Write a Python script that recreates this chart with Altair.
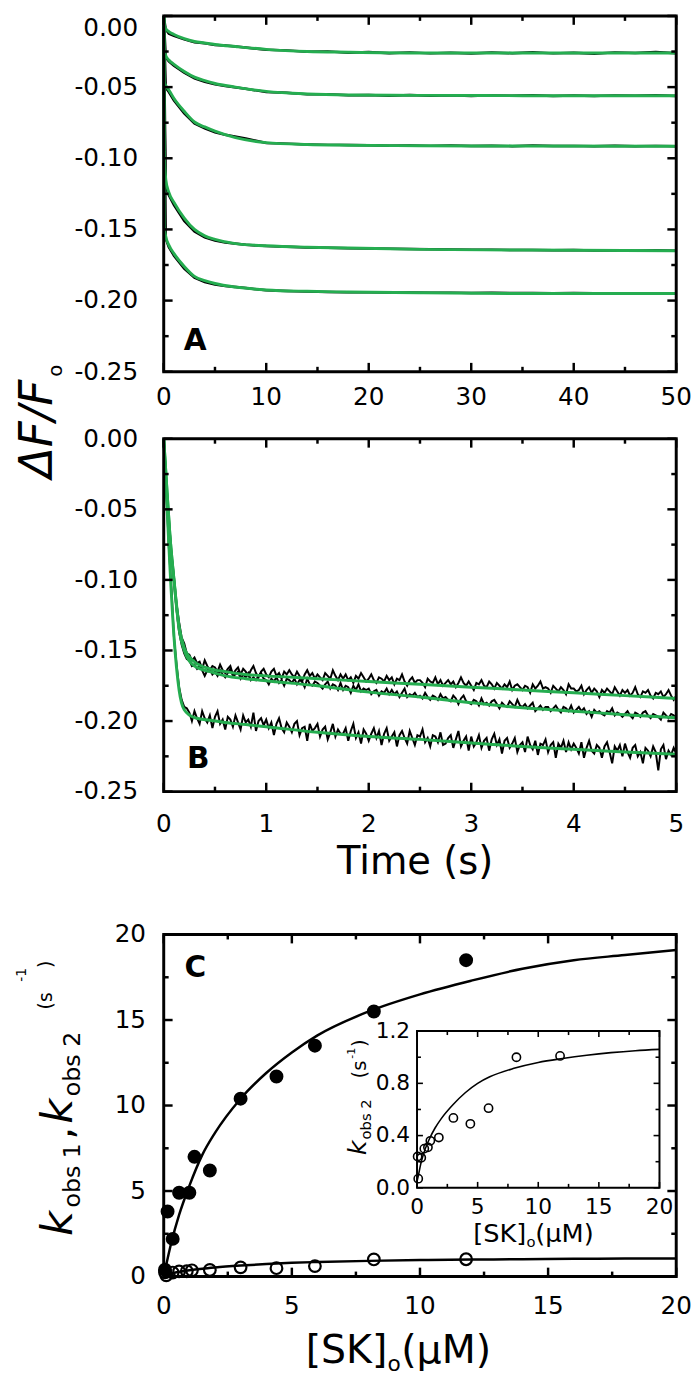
import altair as alt
import pandas as pd

FONT = "DejaVu Sans"
GREEN = "#25ad50"

# ---------------- Panel A (0-50 s) ----------------
A_TIME = [0, 0.2, 0.5, 1, 2, 3, 4, 5, 6, 8, 10, 12, 14, 16, 18, 20, 22, 24, 26, 28,
          30, 32, 34, 36, 38, 40, 42, 44, 46, 48, 50]
A_DATA_1 = [0, -0.0095, -0.0125, -0.0140, -0.0165, -0.0185, -0.0192, -0.0205, -0.0208, -0.0222,
            -0.0238, -0.0242, -0.0252, -0.0249, -0.0258, -0.0254, -0.0262, -0.0256, -0.0263, -0.0258,
            -0.0264, -0.0257, -0.0262, -0.0255, -0.0263, -0.0258, -0.0265, -0.0256, -0.0261, -0.0254, -0.0262]
A_DATA_2 = [0, -0.0290, -0.0320, -0.0350, -0.0398, -0.0438, -0.0462, -0.0480, -0.0492, -0.0512,
            -0.0534, -0.0540, -0.0551, -0.0550, -0.0557, -0.0555, -0.0560, -0.0556, -0.0561, -0.0557,
            -0.0562, -0.0558, -0.0561, -0.0557, -0.0562, -0.0559, -0.0563, -0.0558, -0.0561, -0.0557, -0.0562]
A_DATA_3 = [0, -0.0505, -0.0535, -0.0595, -0.0685, -0.0755, -0.0790, -0.0818, -0.0835, -0.0860,
            -0.0893, -0.0897, -0.0903, -0.0906, -0.0907, -0.0909, -0.0912, -0.0910, -0.0913, -0.0911,
            -0.0914, -0.0912, -0.0915, -0.0911, -0.0914, -0.0913, -0.0916, -0.0912, -0.0915, -0.0913, -0.0916]
A_DATA_4 = [0, -0.1190, -0.1260, -0.1330, -0.1440, -0.1515, -0.1555, -0.1578, -0.1592, -0.1608,
            -0.1617, -0.1622, -0.1627, -0.1629, -0.1632, -0.1634, -0.1636, -0.1637, -0.1640, -0.1641,
            -0.1643, -0.1642, -0.1645, -0.1644, -0.1646, -0.1645, -0.1648, -0.1646, -0.1649, -0.1647, -0.1650]
A_DATA_5 = [0, -0.1565, -0.1625, -0.1685, -0.1775, -0.1840, -0.1870, -0.1888, -0.1898, -0.1912,
            -0.1928, -0.1932, -0.1937, -0.1939, -0.1941, -0.1942, -0.1944, -0.1943, -0.1945, -0.1944,
            -0.1946, -0.1945, -0.1947, -0.1946, -0.1948, -0.1947, -0.1949, -0.1948, -0.1950, -0.1949, -0.1951]

A_FIT_TIME = [0, 0.05, 0.2, 0.5, 1, 2, 3, 4, 5, 7, 10, 14, 18, 25, 35, 50]
A_FIT_1 = [0, -0.006, -0.009, -0.011, -0.013, -0.016, -0.018, -0.019, -0.020, -0.0215, -0.0235, -0.025, -0.0255, -0.026, -0.026, -0.026]
A_FIT_2 = [0, -0.024, -0.028, -0.031, -0.034, -0.039, -0.043, -0.0455, -0.0475, -0.050, -0.053, -0.0548, -0.0555, -0.0558, -0.056, -0.056]
A_FIT_3 = [0, -0.046, -0.049, -0.052, -0.058, -0.067, -0.0745, -0.078, -0.081, -0.0855, -0.089, -0.0903, -0.0908, -0.0912, -0.0914, -0.0915]
A_FIT_4 = [0, -0.095, -0.115, -0.124, -0.131, -0.142, -0.150, -0.1545, -0.157, -0.160, -0.1615, -0.1625, -0.163, -0.164, -0.1645, -0.165]
A_FIT_5 = [0, -0.148, -0.155, -0.161, -0.167, -0.176, -0.183, -0.186, -0.188, -0.1905, -0.1925, -0.1935, -0.194, -0.1945, -0.195, -0.195]

# ---------------- Panel B (0-5 s), sampled every 0.025 s ----------------
B_TIME = [round(0.025 * i, 3) for i in range(201)]
B_DATA_1 = [
    0.000, -0.031, -0.056, -0.081, -0.098, -0.117, -0.130, -0.141, -0.145, -0.152,
    -0.153, -0.157, -0.155, -0.159, -0.158, -0.163, -0.157, -0.161, -0.164, -0.161,
    -0.162, -0.165, -0.160, -0.164, -0.166, -0.163, -0.161, -0.167, -0.164, -0.162,
    -0.167, -0.163, -0.165, -0.168, -0.164, -0.161, -0.166, -0.169, -0.165, -0.163,
    -0.167, -0.169, -0.165, -0.163, -0.168, -0.166, -0.170, -0.165, -0.167, -0.164,
    -0.167, -0.169, -0.165, -0.168, -0.172, -0.167, -0.164, -0.168, -0.166, -0.170,
    -0.167, -0.169, -0.171, -0.166, -0.168, -0.170, -0.164, -0.168, -0.171, -0.167,
    -0.170, -0.167, -0.171, -0.169, -0.173, -0.168, -0.170, -0.166, -0.169, -0.172,
    -0.170, -0.167, -0.171, -0.173, -0.169, -0.170, -0.172, -0.168, -0.171, -0.169,
    -0.174, -0.170, -0.171, -0.167, -0.172, -0.175, -0.171, -0.169, -0.173, -0.171,
    -0.171, -0.173, -0.176, -0.170, -0.172, -0.173, -0.169, -0.174, -0.171, -0.175,
    -0.173, -0.171, -0.174, -0.172, -0.176, -0.173, -0.169, -0.173, -0.175, -0.172,
    -0.175, -0.178, -0.173, -0.174, -0.171, -0.175, -0.176, -0.172, -0.174, -0.177,
    -0.173, -0.175, -0.177, -0.174, -0.176, -0.172, -0.178, -0.175, -0.174, -0.176,
    -0.178, -0.175, -0.176, -0.180, -0.174, -0.177, -0.175, -0.172, -0.177, -0.176,
    -0.177, -0.180, -0.175, -0.177, -0.179, -0.176, -0.178, -0.181, -0.174, -0.177,
    -0.177, -0.179, -0.178, -0.175, -0.181, -0.178, -0.176, -0.180, -0.177, -0.179,
    -0.183, -0.178, -0.180, -0.177, -0.179, -0.181, -0.176, -0.179, -0.182, -0.178,
    -0.180, -0.178, -0.182, -0.180, -0.176, -0.181, -0.183, -0.179, -0.180, -0.178,
    -0.182, -0.184, -0.180, -0.181, -0.179, -0.183, -0.181, -0.178, -0.182, -0.185,
    -0.182]
B_DATA_2 = [
    0.000, -0.029, -0.060, -0.082, -0.101, -0.121, -0.137, -0.146, -0.152, -0.156,
    -0.157, -0.161, -0.160, -0.163, -0.161, -0.164, -0.168, -0.164, -0.163, -0.167,
    -0.165, -0.168, -0.164, -0.167, -0.169, -0.166, -0.163, -0.168, -0.167, -0.165,
    -0.170, -0.167, -0.169, -0.166, -0.171, -0.169, -0.171, -0.168, -0.166, -0.170,
    -0.171, -0.174, -0.170, -0.172, -0.169, -0.173, -0.171, -0.175, -0.170, -0.171,
    -0.173, -0.170, -0.174, -0.171, -0.172, -0.176, -0.170, -0.174, -0.175, -0.172,
    -0.173, -0.175, -0.177, -0.174, -0.172, -0.177, -0.174, -0.175, -0.178, -0.173,
    -0.178, -0.175, -0.176, -0.180, -0.175, -0.178, -0.174, -0.179, -0.177, -0.178,
    -0.177, -0.181, -0.179, -0.178, -0.182, -0.179, -0.180, -0.177, -0.181, -0.178,
    -0.181, -0.179, -0.183, -0.180, -0.177, -0.183, -0.181, -0.182, -0.180, -0.183,
    -0.182, -0.184, -0.180, -0.183, -0.185, -0.182, -0.183, -0.185, -0.181, -0.184,
    -0.183, -0.185, -0.186, -0.182, -0.184, -0.188, -0.184, -0.182, -0.186, -0.187,
    -0.188, -0.185, -0.186, -0.189, -0.184, -0.188, -0.187, -0.189, -0.186, -0.185,
    -0.188, -0.191, -0.187, -0.189, -0.190, -0.186, -0.188, -0.190, -0.185, -0.189,
    -0.190, -0.188, -0.191, -0.189, -0.187, -0.193, -0.191, -0.189, -0.192, -0.190,
    -0.190, -0.193, -0.191, -0.189, -0.192, -0.194, -0.190, -0.191, -0.193, -0.189,
    -0.194, -0.192, -0.190, -0.193, -0.191, -0.195, -0.193, -0.197, -0.192, -0.194,
    -0.193, -0.195, -0.196, -0.193, -0.194, -0.191, -0.196, -0.194, -0.195, -0.197,
    -0.195, -0.193, -0.196, -0.198, -0.194, -0.195, -0.197, -0.194, -0.193, -0.196,
    -0.198, -0.195, -0.196, -0.197, -0.199, -0.194, -0.196, -0.198, -0.195, -0.196,
    -0.198]
B_DATA_3 = [
    0.000, -0.036, -0.077, -0.106, -0.141, -0.160, -0.176, -0.185, -0.190, -0.191,
    -0.194, -0.200, -0.193, -0.198, -0.202, -0.193, -0.198, -0.201, -0.196, -0.205,
    -0.197, -0.193, -0.202, -0.199, -0.206, -0.197, -0.199, -0.204, -0.196, -0.201,
    -0.206, -0.196, -0.201, -0.199, -0.204, -0.194, -0.207, -0.200, -0.198, -0.203,
    -0.199, -0.205, -0.201, -0.210, -0.202, -0.198, -0.205, -0.208, -0.201, -0.204,
    -0.208, -0.202, -0.200, -0.210, -0.205, -0.204, -0.214, -0.202, -0.207, -0.205,
    -0.202, -0.211, -0.206, -0.204, -0.213, -0.208, -0.202, -0.211, -0.206, -0.209,
    -0.209, -0.205, -0.214, -0.207, -0.202, -0.212, -0.208, -0.216, -0.206, -0.209,
    -0.214, -0.209, -0.205, -0.212, -0.207, -0.217, -0.209, -0.205, -0.214, -0.211,
    -0.208, -0.218, -0.210, -0.207, -0.212, -0.216, -0.207, -0.212, -0.217, -0.210,
    -0.211, -0.206, -0.215, -0.212, -0.218, -0.210, -0.211, -0.215, -0.208, -0.217,
    -0.216, -0.212, -0.210, -0.219, -0.213, -0.207, -0.218, -0.214, -0.211, -0.221,
    -0.211, -0.218, -0.215, -0.210, -0.219, -0.214, -0.212, -0.221, -0.213, -0.209,
    -0.217, -0.213, -0.223, -0.214, -0.212, -0.219, -0.216, -0.212, -0.222, -0.217,
    -0.215, -0.222, -0.211, -0.217, -0.220, -0.214, -0.224, -0.216, -0.217, -0.213,
    -0.222, -0.217, -0.215, -0.226, -0.216, -0.219, -0.214, -0.222, -0.215, -0.220,
    -0.216, -0.219, -0.223, -0.215, -0.226, -0.219, -0.214, -0.221, -0.223, -0.217,
    -0.219, -0.226, -0.218, -0.215, -0.222, -0.230, -0.218, -0.221, -0.217, -0.225,
    -0.216, -0.222, -0.226, -0.219, -0.217, -0.225, -0.222, -0.230, -0.219, -0.221,
    -0.225, -0.218, -0.222, -0.235, -0.220, -0.217, -0.227, -0.221, -0.224, -0.219,
    -0.223]

B_FIT_TIME = [0, 0.03, 0.06, 0.1, 0.15, 0.2, 0.3, 0.45, 0.6, 0.8, 1.0, 1.5, 2.0, 2.5, 3.0, 3.5, 4.0, 4.5, 5.0]
B_FIT_1 = [0, -0.035, -0.068, -0.100, -0.133, -0.148, -0.158, -0.163, -0.165, -0.167, -0.168, -0.170, -0.172, -0.174, -0.176, -0.178, -0.180, -0.182, -0.184]
B_FIT_2 = [0, -0.035, -0.068, -0.100, -0.135, -0.150, -0.161, -0.165, -0.168, -0.170, -0.1715, -0.175, -0.1795, -0.183, -0.187, -0.1906, -0.193, -0.1955, -0.1976]
B_FIT_3 = [0, -0.045, -0.090, -0.140, -0.178, -0.192, -0.1976, -0.1995, -0.201, -0.2025, -0.204, -0.208, -0.211, -0.213, -0.2155, -0.218, -0.220, -0.222, -0.2235]

# ---------------- Panel C ----------------
C_SK_1 = [0.05, 0.15, 0.35, 0.6, 1.0, 1.2, 1.8, 3.0, 4.4, 5.9, 8.2, 11.8]
C_KOBS_1 = [0.4, 3.8, 2.2, 4.9, 4.9, 7.0, 6.2, 10.4, 11.7, 13.5, 15.5, 18.5]
C_SK_2 = [0.1, 0.05, 0.35, 0.6, 0.9, 1.1, 1.8, 3.0, 4.4, 5.9, 8.2, 11.8]
C_KOBS_2 = [0.07, 0.24, 0.23, 0.30, 0.31, 0.36, 0.385, 0.535, 0.49, 0.61, 1.0, 1.01]
C_FIT_SK_1 = [0, 0.3, 0.6, 1, 1.5, 2, 3, 4, 5, 6, 8, 10, 12, 14, 16, 18, 20]
C_FIT_1 = [0, 2.0, 3.6, 5.3, 7.1, 8.4, 10.4, 11.9, 13.1, 14.1, 15.5, 16.5, 17.3, 18.0, 18.5, 18.8, 19.1]
C_FIT_SK_2 = [0, 0.1, 0.3, 0.5, 1, 1.5, 2, 3, 4, 5, 6, 8, 10, 12, 14, 16, 18, 20]
C_FIT_2 = [0.05, 0.09, 0.18, 0.25, 0.37, 0.46, 0.53, 0.64, 0.73, 0.80, 0.85, 0.915, 0.96, 0.99, 1.015, 1.035, 1.05, 1.06]

# ---------------- ticks and tick labels ----------------
A_X_MAJOR = [0, 10, 20, 30, 40, 50]
A_X_MINOR = [5, 15, 25, 35, 45]
A_X_LABELS = ["0", "10", "20", "30", "40", "50"]
Y_MAJOR = [-0.25, -0.2, -0.15, -0.1, -0.05, 0]
Y_MINOR = [-0.225, -0.175, -0.125, -0.075, -0.025]
Y_LABELS = ["-0.25", "-0.20", "-0.15", "-0.10", "-0.05", "0.00"]
B_X_MAJOR = [0, 1, 2, 3, 4, 5]
B_X_MINOR = [0.5, 1.5, 2.5, 3.5, 4.5]
B_X_LABELS = ["0", "1", "2", "3", "4", "5"]
C_MAJOR = [0, 5, 10, 15, 20]
C_MINOR = [2.5, 7.5, 12.5, 17.5]
C_LABELS = ["0", "5", "10", "15", "20"]
I_Y_MAJOR = [0, 0.4, 0.8, 1.2]
I_Y_MINOR = [0.2, 0.6, 1.0]
I_Y_LABELS = ["0.0", "0.4", "0.8", "1.2"]

W = 520
HA, HB = 361, 358
CT, CB = 77, 424          # panel C plot top / bottom inside its (taller) view
LAB = 25                  # tick label font size
ONE = pd.DataFrame({"i": [0]})


def long_df(times, series):
    rows = []
    for k, vals in enumerate(series):
        for t, v in zip(times, vals):
            rows.append({"t": t, "v": v, "trace": k})
    return pd.DataFrame(rows)


def txt(s, x, y, size, angle=0, italic=False, bold=False, align="left", baseline="alphabetic"):
    return alt.Chart(ONE).mark_text(
        text=s, angle=angle, align=align, baseline=baseline, font=FONT, fontSize=size,
        fontStyle="italic" if italic else "normal", fontWeight="bold" if bold else "normal",
        color="black",
    ).encode(x=alt.value(x), y=alt.value(y))


def frame(x0, x1, y0, y1, sw=3, fill="transparent"):
    return alt.Chart(ONE).mark_rect(fill=fill, stroke="black", strokeWidth=sw).encode(
        x=alt.value(x0), x2=alt.value(x1), y=alt.value(y0), y2=alt.value(y1))


def ticks(xs, ys, xmaj, xmin, ymaj, ymin, x0, x1, y0, y1, L=9, l=5, sw=2.5):
    out = []
    for vals, ln in ((xmaj, L), (xmin, l)):
        base = alt.Chart(pd.DataFrame({"v": vals})).mark_rule(color="black", strokeWidth=sw)
        xe = alt.X("v:Q", scale=xs, axis=None)
        out.append(base.encode(x=xe, y=alt.value(y1), y2=alt.value(y1 - ln)))
        out.append(base.encode(x=xe, y=alt.value(y0), y2=alt.value(y0 + ln)))
    for vals, ln in ((ymaj, L), (ymin, l)):
        base = alt.Chart(pd.DataFrame({"v": vals})).mark_rule(color="black", strokeWidth=sw)
        ye = alt.Y("v:Q", scale=ys, axis=None)
        out.append(base.encode(y=ye, x=alt.value(x0), x2=alt.value(x0 + ln)))
        out.append(base.encode(y=ye, x=alt.value(x1), x2=alt.value(x1 - ln)))
    return out


def xlabels(xs, vals, labs, y, size=LAB):
    return alt.Chart(pd.DataFrame({"v": vals, "lab": labs})).mark_text(
        align="center", baseline="top", font=FONT, fontSize=size, color="black"
    ).encode(x=alt.X("v:Q", scale=xs, axis=None), y=alt.value(y), text="lab:N")


def ylabels(ys, vals, labs, x, size=LAB, baseline="middle"):
    return alt.Chart(pd.DataFrame({"v": vals, "lab": labs})).mark_text(
        align="right", baseline=baseline, font=FONT, fontSize=size, color="black"
    ).encode(y=alt.Y("v:Q", scale=ys, axis=None), x=alt.value(x), text="lab:N")


# ---------- Panel A ----------
xsA = alt.Scale(domain=[0, 50], nice=False, zero=False)
ysA = alt.Scale(domain=[-0.25, 0], nice=False, zero=False)
a_data = long_df(A_TIME, [A_DATA_1, A_DATA_2, A_DATA_3, A_DATA_4, A_DATA_5])
a_fit = long_df(A_FIT_TIME, [A_FIT_1, A_FIT_2, A_FIT_3, A_FIT_4, A_FIT_5])

a_black = alt.Chart(a_data).mark_line(color="black", strokeWidth=2.5).encode(
    x=alt.X("t:Q", scale=xsA, axis=None), y=alt.Y("v:Q", scale=ysA, axis=None), detail="trace:N")
a_green = alt.Chart(a_fit).mark_line(color=GREEN, strokeWidth=3, interpolate="monotone").encode(
    x=alt.X("t:Q", scale=xsA, axis=None), y=alt.Y("v:Q", scale=ysA, axis=None), detail="trace:N")

panelA = alt.layer(
    a_black, a_green,
    *ticks(xsA, ysA, A_X_MAJOR, A_X_MINOR, Y_MAJOR, Y_MINOR, 0, W, 0, HA),
    frame(0, W, 0, HA),
    xlabels(xsA, A_X_MAJOR, A_X_LABELS, HA + 14),
    ylabels(ysA, Y_MAJOR[:-1], Y_LABELS[:-1], -26),
    ylabels(ysA, Y_MAJOR[-1:], Y_LABELS[-1:], -26, baseline="top"),
    txt("A", 32, 330, 30, bold=True, align="center", baseline="middle"),
    txt("\u0394F/F", -113, 469, 46, angle=270, italic=True),
    txt("o", -103, 366, 20, angle=270),
).properties(width=W, height=HA)

# ---------- Panel B ----------
xsB = alt.Scale(domain=[0, 5], nice=False, zero=False)
ysB = alt.Scale(domain=[-0.25, 0], nice=False, zero=False)
b_data = long_df(B_TIME, [B_DATA_1, B_DATA_2, B_DATA_3])
b_fit = long_df(B_FIT_TIME, [B_FIT_1, B_FIT_2, B_FIT_3])

b_black = alt.Chart(b_data).mark_line(color="black", strokeWidth=2).encode(
    x=alt.X("t:Q", scale=xsB, axis=None), y=alt.Y("v:Q", scale=ysB, axis=None), detail="trace:N")
b_green = alt.Chart(b_fit).mark_line(color=GREEN, strokeWidth=3, interpolate="monotone").encode(
    x=alt.X("t:Q", scale=xsB, axis=None), y=alt.Y("v:Q", scale=ysB, axis=None), detail="trace:N")

panelB = alt.layer(
    b_black, b_green,
    *ticks(xsB, ysB, B_X_MAJOR, B_X_MINOR, Y_MAJOR, Y_MINOR, 0, W, 0, HB),
    frame(0, W, 0, HB),
    xlabels(xsB, B_X_MAJOR, B_X_LABELS, HB + 21),
    ylabels(ysB, Y_MAJOR, Y_LABELS, -26),
    txt("B", 35, 325, 30, bold=True, align="center", baseline="middle"),
    txt("Time (s)", 255, 442, 39, align="center"),
).properties(width=W, height=HB)

# ---------- Panel C ----------
xsC = alt.Scale(domain=[0, 20], nice=False, zero=False)
ysC = alt.Scale(domain=[0, 20], range=[CB, CT], nice=False, zero=False)
c_pts1 = pd.DataFrame({"s": C_SK_1, "k": C_KOBS_1})
c_pts2 = pd.DataFrame({"s": C_SK_2, "k": C_KOBS_2})
c_fit1 = pd.DataFrame({"s": C_FIT_SK_1, "k": C_FIT_1})
c_fit2 = pd.DataFrame({"s": C_FIT_SK_2, "k": C_FIT_2})

c_line1 = alt.Chart(c_fit1).mark_line(color="black", strokeWidth=2.5, interpolate="monotone").encode(
    x=alt.X("s:Q", scale=xsC, axis=None), y=alt.Y("k:Q", scale=ysC, axis=None))
c_line2 = alt.Chart(c_fit2).mark_line(color="black", strokeWidth=2.5, interpolate="monotone").encode(
    x=alt.X("s:Q", scale=xsC, axis=None), y=alt.Y("k:Q", scale=ysC, axis=None))
c_open = alt.Chart(c_pts2).mark_point(shape="circle", filled=False, size=140, strokeWidth=2.2,
                                      color="black", opacity=1).encode(
    x=alt.X("s:Q", scale=xsC, axis=None), y=alt.Y("k:Q", scale=ysC, axis=None))
c_filled = alt.Chart(c_pts1).mark_circle(size=200, color="black", opacity=1).encode(
    x=alt.X("s:Q", scale=xsC, axis=None), y=alt.Y("k:Q", scale=ysC, axis=None))

main_c = alt.layer(
    c_line1, c_line2, c_open, c_filled,
    *ticks(xsC, ysC, C_MAJOR, C_MINOR, C_MAJOR, C_MINOR, 0, W, CT, CB),
    frame(0, W, CT, CB),
    xlabels(xsC, C_MAJOR, C_LABELS, CB + 18),
    ylabels(ysC, C_MAJOR, C_LABELS, -18),
    txt("C", 32, CT + 34, 30, bold=True, align="center", baseline="middle"),
    # y title  k_obs1, k_obs2 (s^-1)
    txt("k", -93, CT + 306, 44, angle=270, italic=True),
    txt("obs 1", -85, CT + 277, 24, angle=270),
    txt(",", -93, CT + 208, 40, angle=270),
    txt("k", -93, CT + 192, 44, angle=270, italic=True),
    txt("obs 2", -85, CT + 164, 24, angle=270),
    txt("(s", -113, CT + 76, 19, angle=270),
    txt("-1", -140, CT + 48, 14, angle=270),
    txt(")", -113, CT + 34, 19, angle=270),
    # x title [SK]o (uM)
    txt("[SK]", 144, CT + 435, 40),
    txt("o", 227, CT + 443, 22),
    txt(" (\u03bcM)", 241, CT + 435, 40),
)

# inset
IX0, IX1, IY0, IY1 = 257, 503, CT + 98, CT + 257
ixs = alt.Scale(domain=[0, 20], range=[IX0, IX1], nice=False, zero=False)
iys = alt.Scale(domain=[0, 1.2], range=[IY1, IY0], nice=False, zero=False)

i_line = alt.Chart(c_fit2).mark_line(color="black", strokeWidth=1.6, interpolate="monotone").encode(
    x=alt.X("s:Q", scale=ixs, axis=None), y=alt.Y("k:Q", scale=iys, axis=None))
i_pts = alt.Chart(c_pts2).mark_point(shape="circle", filled=False, size=70, strokeWidth=1.6,
                                     color="black", opacity=1).encode(
    x=alt.X("s:Q", scale=ixs, axis=None), y=alt.Y("k:Q", scale=iys, axis=None))

inset = alt.layer(
    frame(IX0, IX1, IY0, IY1, sw=2, fill="white"),
    i_line, i_pts,
    *ticks(ixs, iys, C_MAJOR, C_MINOR, I_Y_MAJOR, I_Y_MINOR, IX0, IX1, IY0, IY1, L=6, l=4, sw=1.6),
    xlabels(ixs, C_MAJOR, C_LABELS, IY1 + 10, size=22),
    ylabels(iys, I_Y_MAJOR, I_Y_LABELS, IX0 - 7, size=22),
    txt("k", 205, CT + 224, 26, angle=270, italic=True),
    txt("obs 2", 210, CT + 208, 15, angle=270),
    txt("(s", 205, CT + 146, 20, angle=270),
    txt("-1", 194, CT + 126, 11, angle=270),
    txt(")", 205, CT + 114, 20, angle=270),
    txt("[SK]", 314, CT + 312, 26),
    txt("o", 368, CT + 317, 15),
    txt(" (\u03bcM)", 377, CT + 312, 26),
)

panelC = alt.layer(main_c, inset).resolve_scale(x="independent", y="independent").properties(
    width=W, height=CB)

chart = alt.vconcat(panelA, panelB, panelC, spacing=68, bounds="flush").properties(
    padding={"left": 7, "top": -8, "right": 0, "bottom": 0}, background="white"
).configure_view(stroke="transparent", strokeWidth=0)

chart.save("out.html", embed_options={"renderer": "svg", "actions": False})
